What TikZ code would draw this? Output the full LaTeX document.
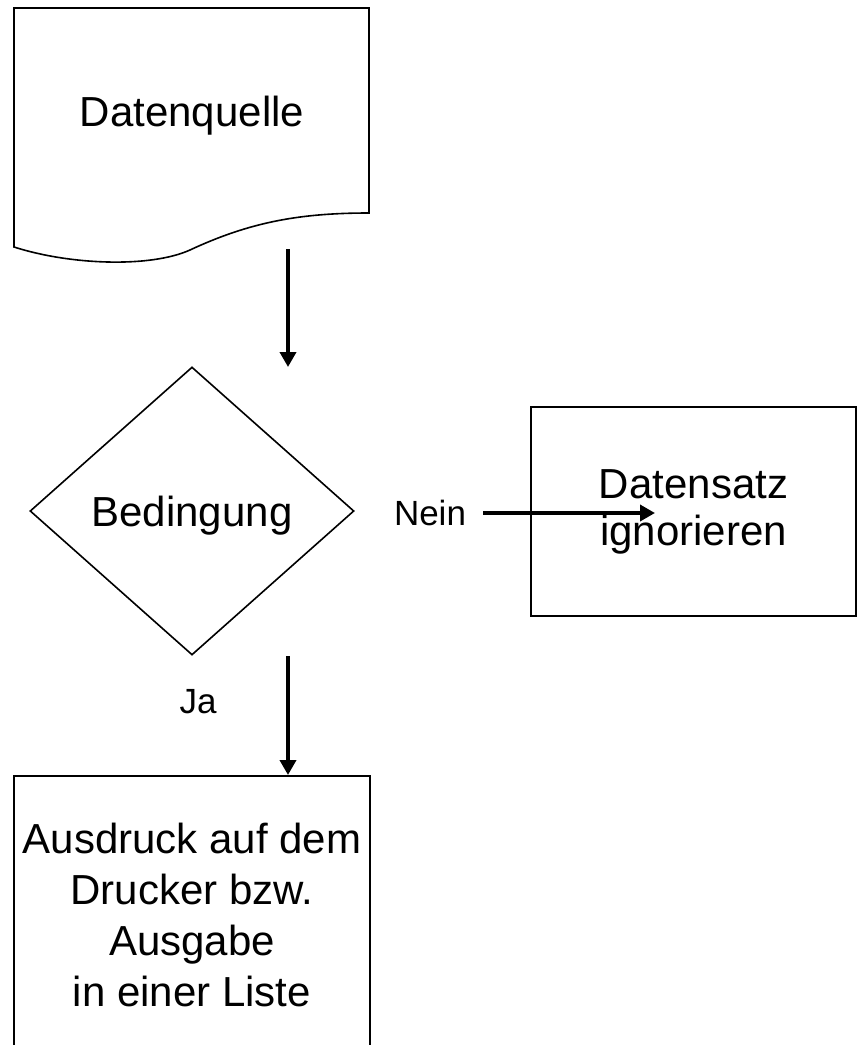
\documentclass[tikz,border=0pt]{standalone}
\usepackage{fontspec}
\setmainfont{Liberation Sans}
\usetikzlibrary{shapes.geometric,arrows.meta,positioning,calc}

\begin{document}
\begin{tikzpicture}[x=0.5pt, y=-0.5pt,
  box/.style={draw, line width=0.8pt, align=center, inner sep=0pt, font=\fontsize{21}{25.5}\selectfont},
  flow/.style={-{Triangle[length=7.5pt,width=8pt]}, line width=1.8pt},
  lbl/.style={font=\fontsize{17.5}{21}\selectfont}]
% page frame
\useasboundingbox (0,0) rectangle (858,1045);
\clip (0,0) rectangle (858,1045);
% data source, document shape
\draw[line width=0.8pt] (14,8) -- (369,8) -- (369,213)
  .. controls (300,213) and (250,222) .. (190,250)
  .. controls (150,268) and (70,265) .. (14,247) -- cycle;
\node[anchor=base, font=\fontsize{21}{25.5}\selectfont] (src) at (192,126) {Datenquelle};
% condition
\node[box, diamond, aspect=1.125, text depth=0pt, minimum width=162pt, minimum height=144pt] (cond) at (192,511) {Bedingung};
% no branch
\node[box, font=\fontsize{21}{23.5}\selectfont, minimum width=162.5pt, minimum height=104.5pt] (skip) at (693.5,511.5) {Datensatz\\ignorieren};
% yes branch
\node[box, minimum width=178pt, minimum height=138.5pt] (out) at (192,914.5) {Ausdruck auf dem\\Drucker bzw.\\Ausgabe\\in einer Liste};
% labels
\node[lbl] (no) at (430,513) {Nein};
\node[lbl] (yes) at (198,702) {Ja};
% arrow ends
\coordinate (a1) at (288,249);
\coordinate (a2) at (288,367);
\coordinate (b1) at (288,656);
\coordinate (b2) at (288,775);
\coordinate (c1) at (483,513);
\coordinate (c2) at (655,513);
\draw[flow] (a1) -- (a2);
\draw[flow] (b1) -- (b2);
\draw[flow] (c1) -- (c2);
\end{tikzpicture}
\end{document}
